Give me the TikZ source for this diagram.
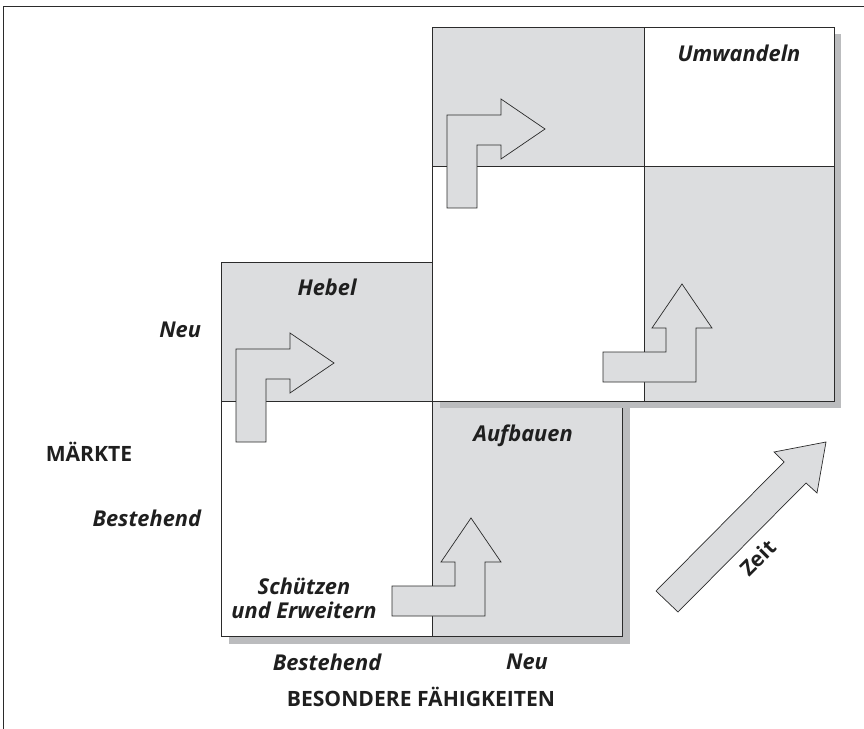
\documentclass[tikz,border=0pt]{standalone}
\usepackage{fontspec}
\setmainfont{Open Sans}
\usetikzlibrary{positioning}
\definecolor{cellgrey}{HTML}{DCDDDF}
\definecolor{shadowgrey}{HTML}{BBBCBE}
\definecolor{linegrey}{HTML}{2B2B2B}

\begin{document}
\begin{tikzpicture}[x=0.025cm, y=-0.025cm,
    cell/.style={draw=linegrey, line width=0.6pt},
    shadowbox/.style={fill=shadowgrey},
    bentarrow/.style={draw=linegrey, fill=cellgrey, line width=0.5pt, line join=miter},
    quadlabel/.style={font=\fontsize{15.5}{17}\selectfont\bfseries\itshape, text=black!88},
    axislabel/.style={font=\fontsize{15}{17}\selectfont\bfseries, text=black!88},
]
\useasboundingbox (0,0) rectangle (864,729);

% Frame
\draw[linegrey, line width=0.7pt] (3.5,729) -- (3.5,6) -- (864,6);

% Lower block with shadow
\fill[shadowbox] (229,270) rectangle (630,644);
\draw[cell, fill=cellgrey] (221,262) rectangle (432,401);
\draw[cell, fill=white] (221,401) rectangle (432,636);
\draw[cell, fill=cellgrey] (432,401) rectangle (622,636);

% Upper block with shadow
\fill[shadowbox] (440,34) rectangle (841,408);
\draw[cell, fill=cellgrey] (432,27) rectangle (644,166);
\draw[cell, fill=white] (644,27) rectangle (834,166);
\draw[cell, fill=white] (432,166) rectangle (644,401);
\draw[cell, fill=cellgrey] (644,166) rectangle (834,401);

% Bent arrows: up then right
\draw[bentarrow, shift={(236,442)}] (0,0) -- (0,-93) -- (54,-93) -- (54,-109) -- (98,-79) -- (54,-49) -- (54,-63) -- (30,-63) -- (30,0) -- cycle;
\draw[bentarrow, shift={(447,208)}] (0,0) -- (0,-93) -- (54,-93) -- (54,-109) -- (98,-79) -- (54,-49) -- (54,-63) -- (30,-63) -- (30,0) -- cycle;

% Bent arrows: right then up
\draw[bentarrow, shift={(392,616)}] (0,0) -- (0,-30) -- (63,-30) -- (63,-54) -- (49,-54) -- (79,-98) -- (109,-54) -- (93,-54) -- (93,0) -- cycle;
\draw[bentarrow, shift={(603,382)}] (0,0) -- (0,-30) -- (63,-30) -- (63,-54) -- (49,-54) -- (79,-98) -- (109,-54) -- (93,-54) -- (93,0) -- cycle;

% Time arrow
\draw[bentarrow] (656,591) -- (784,462) -- (774,452) -- (826,442) -- (817,493) -- (806,483) -- (678,612) -- cycle;
\node[axislabel, rotate=45, inner sep=0pt] (zeit) at (758,558) {Zeit};

% Quadrant labels
\node[quadlabel] (umwandeln) at (739,53) {Umwandeln};
\node[quadlabel] (hebel) at (327,287) {Hebel};
\node[quadlabel] (aufbauen) at (523,436) {Aufbauen};
\node[quadlabel, align=center] (schuetzen) at (304,598) {Schützen\\und Erweitern};

% Axis labels
\node[quadlabel, anchor=east] (marktneu) at (206,330) {Neu};
\node[quadlabel, anchor=east] (marktalt) at (206,518) {Bestehend};
\node[axislabel] (maerkte) at (89,452) {MÄRKTE};
\node[quadlabel] (faehigalt) at (327,662) {Bestehend};
\node[quadlabel] (faehigneu) at (527,662) {Neu};
\node[axislabel] (faehig) at (421,697) {BESONDERE FÄHIGKEITEN};

\end{tikzpicture}
\end{document}
